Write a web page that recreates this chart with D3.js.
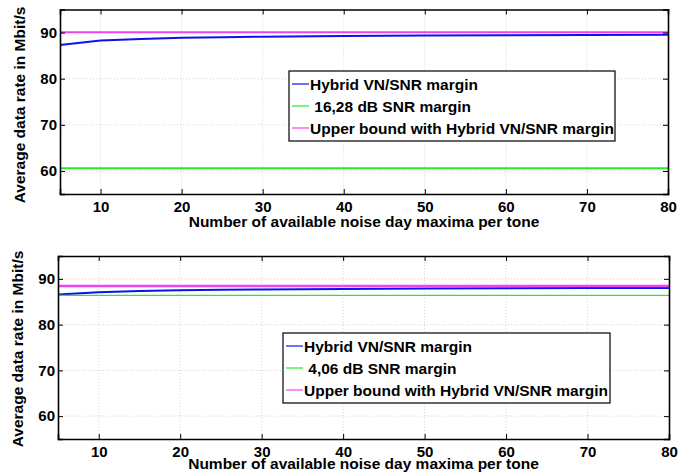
<!DOCTYPE html>
<html>
<head>
<meta charset="utf-8">
<title>Average data rate</title>
<style>
  body { margin: 0; background: #fff; }
  svg text { font-family: "Liberation Sans", Arimo, Arial, sans-serif; font-weight: 700; }
</style>
</head>
<body>
<svg id="chart" width="689" height="474"></svg>
<script src="https://cdnjs.cloudflare.com/ajax/libs/d3/7.8.5/d3.min.js"></script>
<script>
// x positions (number of noise day maxima per tone)
var xVals = [5, 10, 15, 20, 25, 30, 40, 50, 60, 70, 80];

// top panel
var topHybrid = [87.3, 88.3, 88.6, 88.85, 89.0, 89.1, 89.25, 89.35, 89.4, 89.45, 89.5];
var topFixed  = [60.6, 60.6, 60.6, 60.6, 60.6, 60.6, 60.6, 60.6, 60.6, 60.6, 60.6];
var topUpper  = [90.05, 90.05, 90.05, 90.05, 90.05, 90.05, 90.05, 90.05, 90.05, 90.05, 90.05];

// bottom panel
var botHybrid = [86.6, 87.1, 87.35, 87.5, 87.6, 87.7, 87.8, 87.9, 87.95, 88.0, 88.0];
var botFixed  = [86.4, 86.4, 86.4, 86.4, 86.4, 86.4, 86.4, 86.4, 86.4, 86.4, 86.4];
var botUpper  = [88.45, 88.45, 88.45, 88.45, 88.45, 88.45, 88.45, 88.45, 88.45, 88.45, 88.45];

var xTicks = [10, 20, 30, 40, 50, 60, 70, 80];
var yTicks = [60, 70, 80, 90];

var topLabels = ["Hybrid VN/SNR margin", " 16,28 dB SNR margin", "Upper bound with Hybrid VN/SNR margin"];
var botLabels = ["Hybrid VN/SNR margin", " 4,06 dB SNR margin", "Upper bound with Hybrid VN/SNR margin"];

var colBlue = "#1010ee", colGreen = "#22ee22", colPink = "#ee44ee";

var svg = d3.select("#chart");

function panel(cfg) {
  var x = d3.scaleLinear().domain([5, 80]).range([cfg.left, cfg.right]);
  var y = d3.scaleLinear().domain([55, 95]).range([cfg.bottom, cfg.top]);
  var g = svg.append("g");

  // dotted grid
  g.selectAll(".vgrid").data(xTicks.slice(0, -1)).enter().append("line")
    .attr("x1", function (d) { return x(d) }).attr("x2", function (d) { return x(d) })
    .attr("y1", cfg.top).attr("y2", cfg.bottom)
    .attr("stroke", "#c8c8c8").attr("stroke-width", 0.8).attr("stroke-dasharray", "1,2");
  g.selectAll(".hgrid").data(yTicks).enter().append("line")
    .attr("x1", cfg.left).attr("x2", cfg.right)
    .attr("y1", function (d) { return y(d) }).attr("y2", function (d) { return y(d) })
    .attr("stroke", "#c8c8c8").attr("stroke-width", 0.8).attr("stroke-dasharray", "1,2");

  // series
  var line = d3.line().x(function (d, i) { return x(xVals[i]) }).y(function (d) { return y(d) });
  cfg.series.forEach(function (s) {
    g.append("path").datum(s.values).attr("d", line)
      .attr("fill", "none").attr("stroke", s.color).attr("stroke-width", s.width);
  });

  // axes: ticks inside, mirrored on top/right
  var xb = g.append("g").attr("transform", "translate(0," + cfg.bottom + ")")
    .call(d3.axisBottom(x).tickValues(xTicks).tickSize(-5).tickPadding(7));
  var xt = g.append("g").attr("transform", "translate(0," + cfg.top + ")")
    .call(d3.axisTop(x).tickValues(xTicks).tickSize(-5).tickFormat(""));
  var yl = g.append("g").attr("transform", "translate(" + cfg.left + ",0)")
    .call(d3.axisLeft(y).tickValues(yTicks).tickSize(-5).tickPadding(3));
  var yr = g.append("g").attr("transform", "translate(" + cfg.right + ",0)")
    .call(d3.axisRight(y).tickValues(yTicks).tickSize(-5).tickFormat(""));
  [xb, xt, yl, yr].forEach(function (a) {
    a.attr("font-family", null).attr("font-size", 15);
    a.select(".domain").attr("stroke", "#000").attr("stroke-width", 1.6);
    a.selectAll(".tick line").attr("stroke", "#000").attr("stroke-width", 1);
    a.selectAll(".tick text").attr("fill", "#000").attr("font-weight", 700);
  });

  // axis titles
  g.append("text").attr("x", (cfg.left + cfg.right) / 2).attr("y", cfg.xTitleY)
    .attr("text-anchor", "middle").attr("font-size", 15.5).attr("font-weight", 700)
    .text("Number of available noise day maxima per tone");
  g.append("text").attr("transform", "translate(" + cfg.yTitleX + "," + cfg.yTitleC + ") rotate(-90)")
    .attr("text-anchor", "middle").attr("font-size", 15.5).attr("font-weight", 700)
    .text("Average data rate in Mbit/s");

  // legend
  var lg = g.append("g").attr("transform", "translate(" + cfg.legX + "," + cfg.legY + ")");
  lg.append("rect").attr("width", cfg.legW).attr("height", 70)
    .attr("fill", "#fff").attr("stroke", "#000").attr("stroke-width", 1.2);
  cfg.series.forEach(function (s, i) {
    var cy = 13 + i * 22;
    lg.append("line").attr("x1", 3).attr("x2", 20).attr("y1", cy).attr("y2", cy)
      .attr("stroke", s.color).attr("stroke-width", 1.2);
    lg.append("text").attr("x", 21).attr("y", cy + 5.5).attr("font-size", 15.5).attr("font-weight", 700)
      .attr("xml:space", "preserve").style("white-space", "pre").text(cfg.labels[i]);
  });
}

panel({
  left: 60, right: 668, top: 9.5, bottom: 194,
  xTitleY: 227, yTitleX: 25, yTitleC: 105,
  legX: 289, legY: 71, legW: 326,
  labels: topLabels,
  series: [
    { values: topHybrid, color: colBlue, width: 2 },
    { values: topFixed, color: colGreen, width: 2 },
    { values: topUpper, color: colPink, width: 2 }
  ]
});

panel({
  left: 58, right: 669, top: 256, bottom: 439,
  xTitleY: 469, yTitleX: 23, yTitleC: 349,
  legX: 283, legY: 333, legW: 327,
  labels: botLabels,
  series: [
    { values: botHybrid, color: colBlue, width: 2 },
    { values: botFixed, color: colGreen, width: 1.2 },
    { values: botUpper, color: colPink, width: 2.5 }
  ]
});
</script>
</body>
</html>
